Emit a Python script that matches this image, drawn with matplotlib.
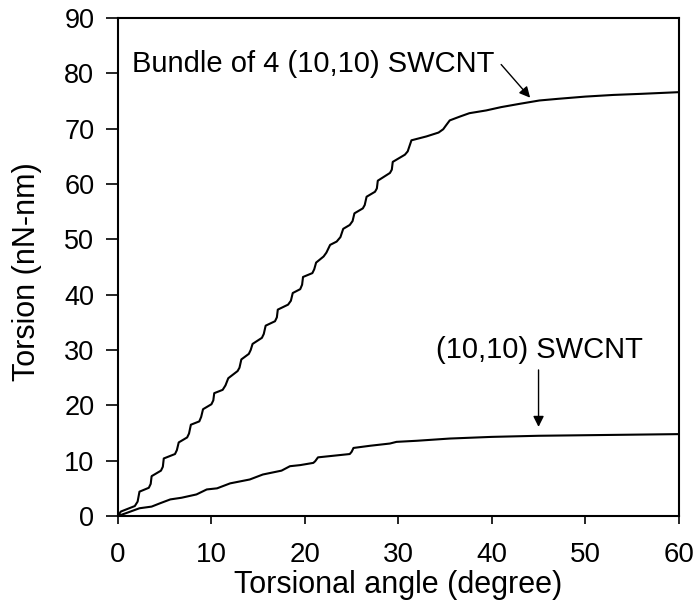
import matplotlib
matplotlib.use("Agg")
import matplotlib.pyplot as plt

plt.rcParams['font.family'] = ['Liberation Sans', 'DejaVu Sans']

# Torsion vs. torsional angle for a bundle of four (10,10) tubes
bundle_angle = [0.0, 0.3, 1.8, 2.1, 2.3, 3.3, 3.5, 3.6, 4.6, 4.8, 4.9, 6.1, 6.3, 6.5,
                7.4, 7.6, 7.8, 8.7, 8.9, 9.1, 10.0, 10.2, 10.3, 11.2, 11.5, 11.8,
                12.8, 13.0, 13.2, 14.0, 14.2, 14.4, 15.4, 15.6, 15.8, 16.8, 17.0, 17.1,
                18.2, 18.5, 18.7, 19.5, 19.7, 19.8, 20.8, 21.0, 21.2, 22.0, 22.3, 22.7,
                23.4, 23.8, 24.1, 24.8, 25.1, 25.3, 26.2, 26.4, 26.6, 27.5, 27.7, 27.8,
                29.1, 29.3, 29.4, 30.7, 31.0, 31.4, 33.0, 34.3, 34.8, 35.1, 35.5, 36.6,
                37.6, 39.4, 41.0, 43.0, 45.1, 47.1, 50.0, 53.0, 56.0, 60.0]
bundle_torsion = [0.0, 0.8, 1.8, 2.6, 4.4, 5.1, 5.8, 7.2, 8.2, 8.9, 10.4, 11.2, 11.9, 13.3,
                  14.2, 14.9, 16.5, 17.1, 17.9, 19.3, 20.2, 20.9, 22.2, 22.8, 23.6, 24.9,
                  26.2, 26.8, 28.3, 29.3, 30.0, 31.1, 32.2, 32.9, 34.4, 35.2, 35.9, 37.3,
                  38.2, 38.9, 40.3, 41.0, 41.8, 43.2, 43.9, 44.6, 45.8, 46.9, 47.6, 49.0,
                  49.6, 50.4, 51.9, 52.6, 53.3, 54.7, 55.6, 56.2, 57.7, 58.6, 59.2, 60.6,
                  62.0, 62.6, 64.0, 65.3, 65.9, 67.9, 68.6, 69.3, 69.9, 70.6, 71.5, 72.2,
                  72.8, 73.3, 73.9, 74.5, 75.1, 75.4, 75.8, 76.1, 76.3, 76.6]

# Torsion vs. torsional angle for a single (10,10) tube
single_angle = [0.0, 1.0, 2.3, 3.6, 4.5, 5.6, 6.8, 8.4, 9.5, 10.6, 12.0, 14.1, 15.5,
                17.5, 18.4, 19.5, 20.9, 21.1, 21.4, 24.8, 25.0, 25.2, 27.0, 29.1, 29.8,
                32.0, 35.5, 40.0, 45.0, 50.0, 55.0, 60.0]
single_torsion = [0.0, 0.6, 1.4, 1.7, 2.3, 3.0, 3.3, 3.9, 4.8, 5.0, 5.9, 6.6, 7.5,
                  8.2, 9.0, 9.2, 9.6, 9.9, 10.6, 11.2, 11.6, 12.3, 12.7, 13.1, 13.4,
                  13.6, 14.0, 14.3, 14.5, 14.6, 14.7, 14.8]

x_ticks = [0, 10, 20, 30, 40, 50, 60]
y_ticks = [0, 10, 20, 30, 40, 50, 60, 70, 80, 90]

fig = plt.figure(figsize=(6.94, 6.09), dpi=100)
ax = fig.add_axes([0.170, 0.1527, 0.808, 0.8177])

ax.plot(bundle_angle, bundle_torsion, color='black', lw=1.5)
ax.plot(single_angle, single_torsion, color='black', lw=1.5)

ax.set_xlim(0, 60)
ax.set_ylim(0, 90)
ax.set_xticks(x_ticks)
ax.set_yticks(y_ticks)
ax.tick_params(axis='x', direction='out', length=6, width=1.2, labelsize=20, pad=13)
ax.tick_params(axis='y', direction='out', length=9, width=1.2, labelsize=19.5, pad=8)
for s in ax.spines.values():
    s.set_linewidth(1.5)

ax.set_xlabel('Torsional angle (degree)', fontsize=22, labelpad=1)
ax.set_ylabel('Torsion (nN-nm)', fontsize=22)
ax.yaxis.set_label_coords(-0.136, 0.49)

arrow = dict(arrowstyle='-|>', color='black', lw=1.0, mutation_scale=16,
             shrinkA=0, shrinkB=0)
ax.text(1.5, 81.7, 'Bundle of 4 (10,10) SWCNT', fontsize=21, ha='left', va='center')
ax.annotate('', xy=(44.1, 75.6), xytext=(41.0, 81.6), arrowprops=arrow)

ax.text(45.1, 30.0, '(10,10) SWCNT', fontsize=21, ha='center', va='center')
ax.annotate('', xy=(45.0, 16.1), xytext=(45.0, 26.4), arrowprops=arrow)

fig.savefig('out.png', dpi=100)
